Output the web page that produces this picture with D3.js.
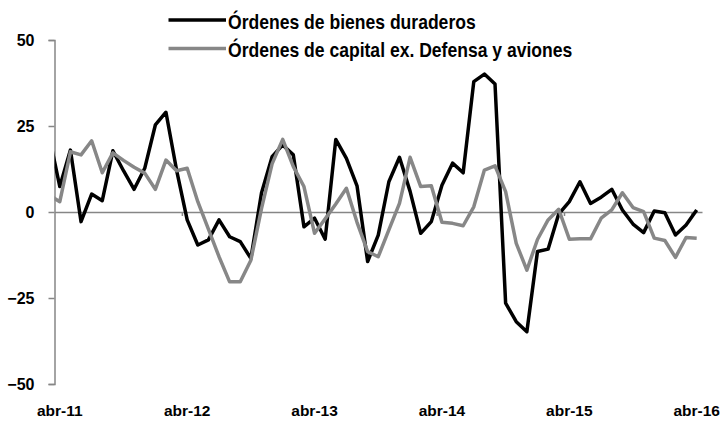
<!DOCTYPE html>
<html>
<head>
<meta charset="utf-8">
<script src="https://cdn.jsdelivr.net/npm/d3@7"></script>
<style>
  body { margin: 0; background: #fff; }
  text { font-family: "Liberation Sans", Arial, sans-serif; font-weight: bold; fill: #000; }
</style>
</head>
<body>
<div id="chart"></div>
<script>
// months: first value is mar-11 (clipped by the y axis), then abr-11 .. abr-16
var startMonth = -1;
var durables = [22, 7.4, 18.0, -2.8, 5.2, 3.3, 17.8, 12, 6.6, 12.7, 25.3, 29.0, 12.2,
  -2.3, -9.6, -8.1, -2.3, -7.2, -8.6, -13.5, 5.5, 16.1, 19.5, 16.6, -4.3,
  -1.8, -7.9, 21.1, 15.6, 7.6, -14.4, -6.7, 8.8, 15.9, 6, -6.2, -2.8,
  7.8, 14.2, 11.4, 37.9, 40.1, 37.2, -26.5, -31.9, -34.8, -11.5, -10.8, -0.6,
  3.0, 8.8, 2.5, 4.3, 6.6, 0.6, -3.5, -6.0, 0.3, -0.2, -6.7, -3.8, 0.6];
var capital = [4.9, 3.0, 17.5, 16.6, 20.7, 11.4, 17.2, 15, 13, 11.3, 6.6, 15.1, 12.0,
  12.7, 3, -5, -13, -20.3, -20.3, -14, 1, 14, 21.1, 13.2, 7.4,
  -6.2, -2, 2.3, 6.9, -3, -11.5, -13, -5.2, 2.5, 15.9, 7.4, 7.6,
  -3.0, -3.3, -4.0, 1.5, 12.2, 13.4, 5.9, -9.1, -16.9, -8, -2.3, 0.8,
  -7.9, -7.8, -7.8, -1.8, 0.6, 5.6, 1.3, 0.1, -7.6, -8.3, -13.2, -7.4, -7.6];
var seriesNames = ['Órdenes de bienes duraderos', 'Órdenes de capital ex. Defensa y aviones'];
var seriesColors = ['#000000', '#878787'];
var xTickLabels = ['abr-11', 'abr-12', 'abr-13', 'abr-14', 'abr-15', 'abr-16'];
var yTicks = [-50, -25, 0, 25, 50];

var width = 726, height = 421;
var plot = { left: 54.5, right: 702, top: 40, bottom: 384 };

var svg = d3.select('#chart').append('svg')
  .attr('width', width)
  .attr('height', height);

// x: month index, axis sits half a month before abr-11
var x = d3.scaleLinear().domain([-0.5, 60.5]).range([plot.left, plot.right]);
var y = d3.scaleLinear().domain([-50, 50]).range([plot.bottom, plot.top]);

svg.append('clipPath').attr('id', 'plotclip')
  .append('rect')
  .attr('x', plot.left).attr('y', 0)
  .attr('width', plot.right - plot.left).attr('height', height);

// Y axis
var yAxis = svg.append('g')
  .attr('transform', 'translate(' + plot.left + ',0)')
  .call(d3.axisLeft(y).tickValues(yTicks).tickSize(6).tickPadding(14).tickFormat(d3.format('d')));
yAxis.select('.domain').attr('stroke', '#868686').attr('stroke-width', 1.5);
yAxis.selectAll('.tick line').attr('stroke', '#868686').attr('stroke-width', 1.5);
yAxis.selectAll('.tick text').style('font-size', '16px').style('font-family', null);

// X axis at zero, ticks between years
var yearTicks = d3.range(0, 5).map(function (i) { return 11.5 + i * 12; });
var xAxis = svg.append('g')
  .attr('transform', 'translate(0,' + y(0) + ')')
  .call(d3.axisBottom(x).tickValues(yearTicks).tickSize(4).tickSizeOuter(0).tickFormat(''));
xAxis.select('.domain').attr('stroke', '#868686').attr('stroke-width', 1.5);
xAxis.selectAll('.tick line').attr('stroke', '#868686').attr('stroke-width', 1.5);

// month labels at the bottom
svg.append('g')
  .selectAll('text')
  .data(xTickLabels)
  .join('text')
  .attr('x', function (d, i) { return x(i * 12); })
  .attr('y', 416)
  .attr('text-anchor', 'middle')
  .style('font-size', '15.5px')
  .text(function (d) { return d; });

// lines
var line = d3.line()
  .x(function (d, i) { return x(i + startMonth); })
  .y(function (d) { return y(d); });

var lines = svg.append('g').attr('clip-path', 'url(#plotclip)');
[durables, capital].forEach(function (s, k) {
  lines.append('path')
    .datum(s)
    .attr('fill', 'none')
    .attr('stroke', seriesColors[k])
    .attr('stroke-width', 3.5)
    .attr('stroke-linejoin', 'round')
    .attr('d', line);
});

// legend (text is horizontally condensed in the original)
var legend = svg.append('g');
seriesNames.forEach(function (name, k) {
  var ly = 20 + k * 28.5;
  legend.append('line')
    .attr('x1', 168.5).attr('x2', 226)
    .attr('y1', ly).attr('y2', ly)
    .attr('stroke', seriesColors[k])
    .attr('stroke-width', 3.5);
  legend.append('text')
    .attr('transform', 'translate(228,' + (ly + 8.5) + ') scale(0.9,1)')
    .style('font-size', '19.5px')
    .text(name);
});
</script>
</body>
</html>
